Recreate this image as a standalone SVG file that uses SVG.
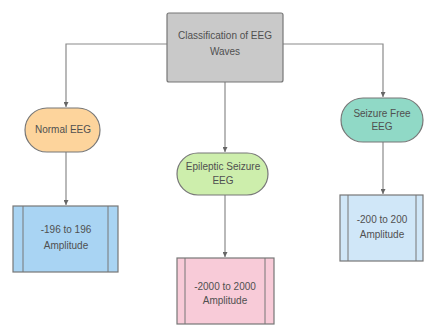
<svg xmlns="http://www.w3.org/2000/svg" width="427" height="327" viewBox="0 0 427 327">
<defs>
<marker id="arr" viewBox="0 0 6 6" refX="6" refY="3" markerWidth="5" markerHeight="5" orient="auto" markerUnits="userSpaceOnUse">
<path d="M0,0 L6,3 L0,6 z" fill="#666"/>
</marker>
</defs>
<style>
text{font-family:"Liberation Sans",Arial,sans-serif;font-size:10px;fill:#505050;text-anchor:middle}
.edge{fill:none;stroke:#8a8a8a;stroke-width:1.2;marker-end:url(#arr)}
.n{stroke:#777;stroke-width:1.2}
.inner{stroke:#777;stroke-width:1}
</style>
<rect width="427" height="327" fill="#ffffff"/>
<g id="connectors">
<path class="edge" d="M167,44 H66 V107"/>
<path class="edge" d="M283,44 H383 V97"/>
<path class="edge" d="M225,82 V152"/>
<path class="edge" d="M66,152 V205"/>
<path class="edge" d="M225,195 V257"/>
<path class="edge" d="M383,142 V194"/>
</g>
<g id="root">
<rect class="n" x="167" y="13" width="116" height="69" rx="2" fill="#c9c9c9"/>
<text x="225" y="38.5">Classification of EEG</text>
<text x="225" y="54.5">Waves</text>
</g>
<g id="normal">
<rect class="n" x="25" y="108" width="75" height="44" rx="22" fill="#fdd49c"/>
<text x="63" y="133">Normal EEG</text>
</g>
<g id="epileptic">
<rect class="n" x="177" y="153" width="91" height="42" rx="21" fill="#cdeeac"/>
<text x="223" y="169.5">Epileptic Seizure</text>
<text x="223" y="183.5">EEG</text>
</g>
<g id="seizurefree">
<rect class="n" x="341" y="98" width="82" height="44" rx="22" fill="#90d9c6"/>
<text x="382" y="116.5">Seizure Free</text>
<text x="382" y="129.5">EEG</text>
</g>
<g id="amp196">
<rect class="n" x="13" y="206" width="105" height="66" fill="#a9d4f3"/>
<line class="inner" x1="23" y1="206" x2="23" y2="272"/>
<line class="inner" x1="108" y1="206" x2="108" y2="272"/>
<text x="66" y="232.5">-196 to 196</text>
<text x="66" y="248.5">Amplitude</text>
</g>
<g id="amp2000">
<rect class="n" x="177" y="258" width="97" height="66" fill="#f8cbd8"/>
<line class="inner" x1="185" y1="258" x2="185" y2="324"/>
<line class="inner" x1="265" y1="258" x2="265" y2="324"/>
<text x="225" y="290">-2000 to 2000</text>
<text x="225" y="304">Amplitude</text>
</g>
<g id="amp200">
<rect class="n" x="340" y="195" width="83" height="66" fill="#d0e7f8"/>
<line class="inner" x1="348" y1="195" x2="348" y2="261"/>
<line class="inner" x1="416" y1="195" x2="416" y2="261"/>
<text x="382" y="222.5">-200 to 200</text>
<text x="382" y="237.5">Amplitude</text>
</g>
</svg>
